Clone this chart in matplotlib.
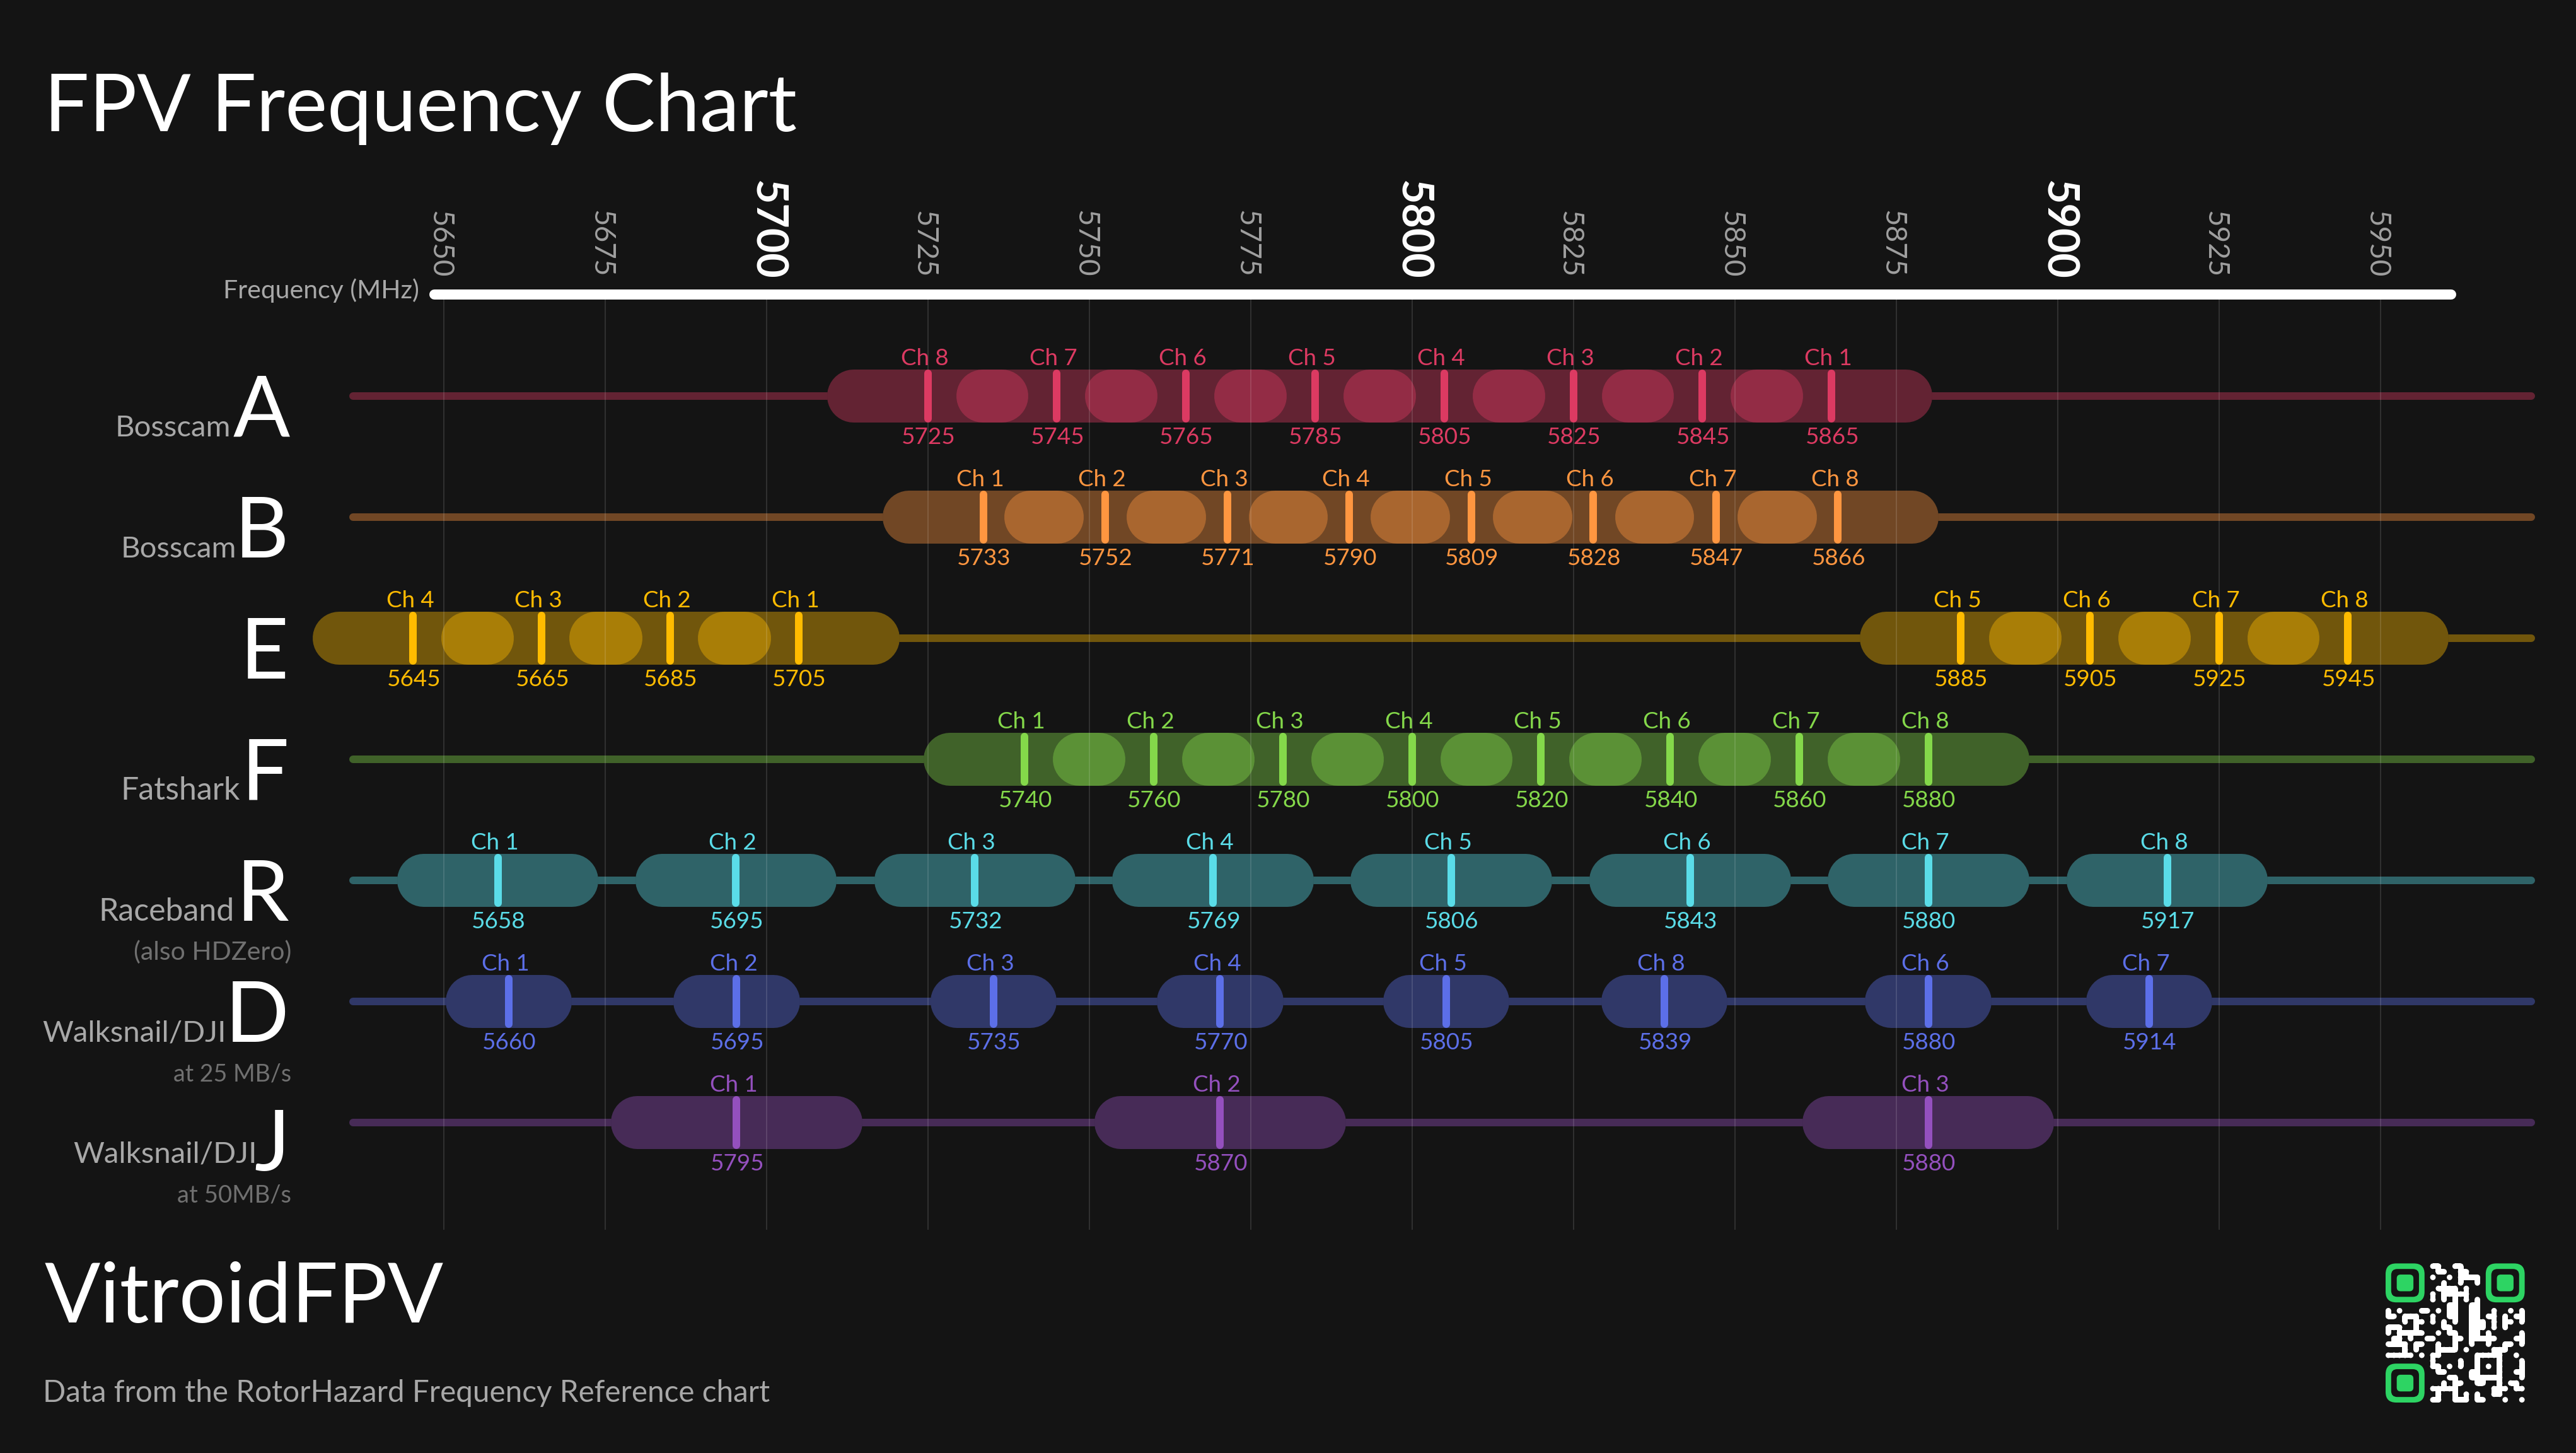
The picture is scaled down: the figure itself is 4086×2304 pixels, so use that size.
import matplotlib
matplotlib.use('Agg')
import matplotlib.pyplot as plt
from matplotlib.patches import FancyBboxPatch, Circle, Rectangle

W, H = 4086, 2304
BG = '#141414'
FONT = ['Lato', 'DejaVu Sans']

# frequency scale
AXIS_TICKS = [5650, 5675, 5700, 5725, 5750, 5775, 5800, 5825, 5850, 5875, 5900, 5925, 5950]
MAJOR_TICKS = [5700, 5800, 5900]

# rows, top to bottom
BAND_LETTERS = ['A', 'B', 'E', 'F', 'R', 'D', 'J']
BAND_MAKERS = ['Bosscam', 'Bosscam', '', 'Fatshark', 'Raceband', 'Walksnail/DJI', 'Walksnail/DJI']
BAND_NOTES = ['', '', '', '', '(also HDZero)', 'at 25 MB/s', 'at 50MB/s']
BAND_COLORS = ['#DC3A62', '#FF9640', '#FFBB00', '#84D84A', '#5ADCE8', '#5C6FE8', '#9450BE']
BAND_WIDTHS = [15.6, 15.6, 15.6, 15.6, 15.6, 9.8, 19.5]

# labels as printed, positions (they differ a little)
A_CH = ['Ch 8', 'Ch 7', 'Ch 6', 'Ch 5', 'Ch 4', 'Ch 3', 'Ch 2', 'Ch 1']
A_TEXT = [5725, 5745, 5765, 5785, 5805, 5825, 5845, 5865]
A_POS = [5725, 5745, 5765, 5785, 5805, 5825, 5845, 5865]
B_CH = ['Ch 1', 'Ch 2', 'Ch 3', 'Ch 4', 'Ch 5', 'Ch 6', 'Ch 7', 'Ch 8']
B_TEXT = [5733, 5752, 5771, 5790, 5809, 5828, 5847, 5866]
B_POS = [5733.6, 5752.5, 5771.4, 5790.3, 5809.2, 5828.1, 5847.1, 5866]
E_CH = ['Ch 4', 'Ch 3', 'Ch 2', 'Ch 1', 'Ch 5', 'Ch 6', 'Ch 7', 'Ch 8']
E_TEXT = [5645, 5665, 5685, 5705, 5885, 5905, 5925, 5945]
E_POS = [5645.3, 5665.2, 5685.1, 5705, 5885, 5905, 5925, 5945]
F_CH = ['Ch 1', 'Ch 2', 'Ch 3', 'Ch 4', 'Ch 5', 'Ch 6', 'Ch 7', 'Ch 8']
F_TEXT = [5740, 5760, 5780, 5800, 5820, 5840, 5860, 5880]
F_POS = [5740, 5760, 5780, 5800, 5820, 5840, 5860, 5880]
R_CH = ['Ch 1', 'Ch 2', 'Ch 3', 'Ch 4', 'Ch 5', 'Ch 6', 'Ch 7', 'Ch 8']
R_TEXT = [5658, 5695, 5732, 5769, 5806, 5843, 5880, 5917]
R_POS = [5658.4, 5695.3, 5732.3, 5769.2, 5806.1, 5843.1, 5880, 5917]
D_CH = ['Ch 1', 'Ch 2', 'Ch 3', 'Ch 4', 'Ch 5', 'Ch 8', 'Ch 6', 'Ch 7']
D_TEXT = [5660, 5695, 5735, 5770, 5805, 5839, 5880, 5914]
D_POS = [5660.1, 5695.4, 5735.2, 5770.3, 5805.3, 5839.1, 5880, 5914.2]
J_CH = ['Ch 1', 'Ch 2', 'Ch 3']
J_TEXT = [5795, 5870, 5880]
J_POS = [5695.4, 5770.3, 5880]

ROW_CH = [A_CH, B_CH, E_CH, F_CH, R_CH, D_CH, J_CH]
ROW_POS = [A_POS, B_POS, E_POS, F_POS, R_POS, D_POS, J_POS]
ROW_TEXT = [A_TEXT, B_TEXT, E_TEXT, F_TEXT, R_TEXT, D_TEXT, J_TEXT]

# qr modules, white part only (row: columns)
QR_ROWS = {
    0: [8, 9, 12, 13],
    1: [9, 10, 13, 14],
    2: [8, 11, 13, 14, 15, 16],
    3: [10, 13, 16],
    4: [9, 10, 11, 12, 14],
    5: [8, 10, 11, 12, 13, 14],
    6: [8, 10, 12, 14, 16],
    7: [11, 12, 15, 16],
    8: [0, 2, 6, 7, 9, 11, 12, 15, 16, 19, 22, 24],
    9: [0, 1, 3, 4, 5, 8, 11, 12, 15, 16, 18, 19, 21, 23, 24],
    10: [3, 5, 6, 8, 10, 12, 15, 16, 17, 19, 21, 22, 24],
    11: [0, 1, 2, 5, 10, 11, 15, 16, 17, 19, 21],
    12: [0, 2, 3, 4, 5, 6, 9, 11, 12, 15, 16, 18, 24],
    13: [1, 2, 4, 7, 8, 12, 13, 15, 16, 17, 18, 19, 23, 24],
    14: [0, 1, 2, 3, 5, 6, 9, 12, 15, 18, 21, 22, 24],
    15: [3, 5, 9, 10, 11, 12, 14, 19, 20, 21],
    16: [0, 1, 2, 3, 4, 6, 8, 9, 16, 17, 18, 19, 20, 23],
    17: [8, 13, 16, 20, 24],
    18: [8, 9, 11, 13, 16, 18, 20, 24],
    19: [9, 10, 15, 16, 20, 23, 24],
    20: [11, 12, 15, 16, 17, 18, 19, 20, 24],
    21: [10, 12, 13, 16, 17, 20, 22, 23],
    22: [8, 9, 10, 11, 12, 19, 20, 21, 23, 24],
    23: [9, 12, 14, 16, 19, 20],
    24: [8, 9, 12, 13, 14, 16, 17, 21, 24],
}
QR_FINDERS = [(0, 0), (18, 0), (0, 18)]
QR_GREEN = '#2DD463'

PX_PER_MHZ = 10.24
ROW_PX = 192.0
X0 = 5650 - 703.6 / PX_PER_MHZ
Y0 = -628.0 / ROW_PX
PT = 0.72  # px to points at dpi 100


def mhz(px):
    return X0 + px / PX_PER_MHZ


def row(px):
    return Y0 + px / ROW_PX


def px_text(x, y, s, size, color, ha='left', **kw):
    fig.text(x / W, 1 - y / H, s, fontsize=size, color=color, ha=ha, va='baseline', family=FONT, **kw)


fig = plt.figure(figsize=(W / 100, H / 100), dpi=100, facecolor=BG)
ax = fig.add_axes([0, 0, 1, 1])
ax.set_xlim(X0, X0 + W / PX_PER_MHZ)
ax.set_ylim(Y0 + H / ROW_PX, Y0)
ax.axis('off')

# frequency axis
ax.plot([mhz(689), mhz(3888)], [row(467), row(467)], color='white', lw=16 * PT,
        solid_capstyle='round', zorder=6)
ax.vlines(AXIS_TICKS, row(475), row(1950), color='white', alpha=0.12, lw=1.5, zorder=4)
for f in AXIS_TICKS:
    if f in MAJOR_TICKS:
        ax.text(f, row(443), str(f), rotation=270, ha='center', va='bottom',
                fontsize=49, color='white', family=FONT, weight='bold')
    else:
        ax.text(f - 0.6, row(440), str(f), rotation=270, ha='center', va='bottom',
                fontsize=33, color='#A0A0A0', family=FONT)
px_text(665, 473, 'Frequency (MHz)', 29.5, '#A8A8A8', ha='right')

cap_r = 42 / PX_PER_MHZ
tick_half = (42 - 6) / ROW_PX

for i in range(len(BAND_LETTERS)):
    color = BAND_COLORS[i]
    hw = BAND_WIDTHS[i]
    ax.plot([mhz(560), mhz(4015)], [i, i], color=color, alpha=0.4, lw=12 * PT,
            solid_capstyle='round', zorder=1)
    for ch, f, txt in zip(ROW_CH[i], ROW_POS[i], ROW_TEXT[i]):
        # dark pill first so the thin line does not show through the band
        for face, alpha, z in [(BG, 1, 2), (color, 0.4, 3)]:
            ax.plot([f - hw + cap_r, f + hw - cap_r], [i, i], color=face, alpha=alpha,
                    lw=84 * PT, solid_capstyle='round', zorder=z)
        ax.plot([f, f], [i - tick_half, i + tick_half], color=color, lw=12 * PT,
                solid_capstyle='round', zorder=5)
        ax.text(f - 0.5, i - 49 / ROW_PX, ch, ha='center', va='baseline', fontsize=26.5,
                color=color, family=FONT, zorder=6)
        ax.text(f + 0.1, i + 76 / ROW_PX, str(txt), ha='center', va='baseline', fontsize=26.5,
                color=color, family=FONT, zorder=6)

# row labels
LETTER_X = [460, 458, 458, 458, 458, 458, 460]
LETTER_DROP = [64, 64, 64, 64, 64, 64, 76]
MAKER_X = [366, 375, 0, 381, 372, 359, 408]
MAKER_SIZE = [34, 34, 34, 36, 36, 34, 34]
NOTE_SIZE = [27, 27, 27, 27, 29.5, 27, 27.5]
for i, letter in enumerate(BAND_LETTERS):
    base = 628 + ROW_PX * i
    px_text(LETTER_X[i], base + LETTER_DROP[i], letter, 96, 'white', ha='right')
    if BAND_MAKERS[i]:
        px_text(MAKER_X[i], base + 64, BAND_MAKERS[i], MAKER_SIZE[i], '#A8A8A8', ha='right')
    if BAND_NOTES[i]:
        px_text(462, base + 126, BAND_NOTES[i], NOTE_SIZE[i], '#707070', ha='right')

# titles
px_text(70, 208, 'FPV Frequency Chart', 91, 'white')
px_text(71, 2097, 'VitroidFPV', 94, 'white')
px_text(68, 2223, 'Data from the RotorHazard Frequency Reference chart', 34.3, '#A8A8A8')

# qr code, rounded modules merged with their neighbours
qr = fig.add_axes([3784 / W, 1 - 2224 / H, 220.6 / W, 220.6 / H])
qr.set_xlim(0, 25)
qr.set_ylim(25, 0)
qr.axis('off')
for r, cols in QR_ROWS.items():
    for c in cols:
        qr.add_patch(Circle((c + 0.5, r + 0.5), 0.5, fc='white', ec='none'))
        if c + 1 in cols:
            qr.add_patch(Rectangle((c + 0.5, r), 1, 1, fc='white', ec='none'))
        if c in QR_ROWS.get(r + 1, []):
            qr.add_patch(Rectangle((c, r + 0.5), 1, 1, fc='white', ec='none'))
for fx, fy in QR_FINDERS:
    for inset, size, face, rad in [(0, 7, QR_GREEN, 1.9), (1, 5, BG, 1.1), (2, 3, QR_GREEN, 0.7)]:
        qr.add_patch(FancyBboxPatch((fx + inset, fy + inset), size, size,
                                    boxstyle='round,pad=0,rounding_size=%f' % rad,
                                    fc=face, ec='none'))

fig.savefig('out.png', dpi=100, facecolor=BG)
